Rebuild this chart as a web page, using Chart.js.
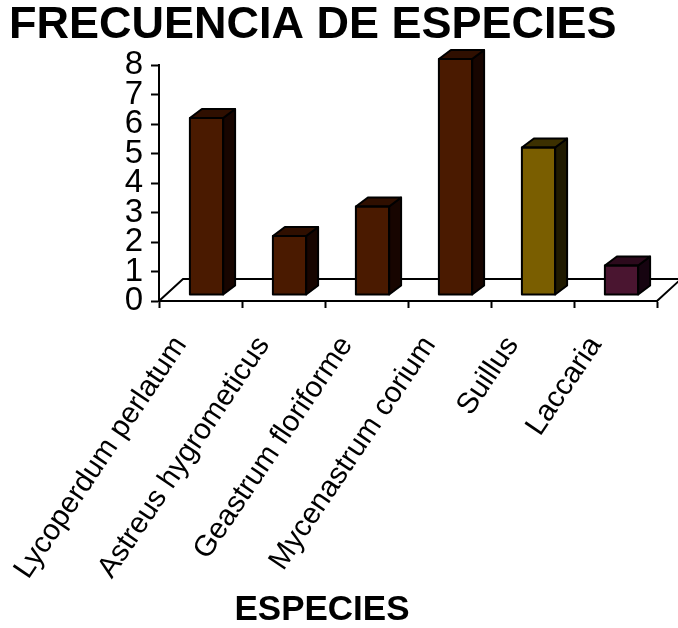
<!DOCTYPE html>
<html>
<head>
<meta charset="utf-8">
<script src="https://cdn.jsdelivr.net/npm/chart.js@4"></script>
<style>
  html, body { margin: 0; padding: 0; background: #ffffff; }
  canvas { display: block; }
</style>
</head>
<body>
<canvas id="chart" width="678" height="628"></canvas>
<script>
// Especies registradas y su frecuencia
const categorias = [
  'Lycoperdum perlatum',
  'Astreus hygrometicus',
  'Geastrum floriforme',
  'Mycenastrum corium',
  'Suillus',
  'Laccaria'
];
const frecuencias = [6, 2, 3, 8, 5, 1];
const marcasY = [0, 1, 2, 3, 4, 5, 6, 7, 8];

// Colores de cada barra: cara frontal, superior y lateral
const colorFrente = ['#4a1a00', '#4a1a00', '#4a1a00', '#4a1a00', '#7a5e00', '#4a1530'];
const colorArriba = ['#2f0f00', '#2f0f00', '#2f0f00', '#2f0f00', '#3c3000', '#2c0a1c'];
const colorLado   = ['#170500', '#170500', '#170500', '#170500', '#201a00', '#160410'];

const FUENTE = "'Liberation Sans', Arial, sans-serif";
const DESPL = { x: 6, y: -6 };        // desplazamiento de las barras hacia el fondo
const PROF_BARRA = { x: 12, y: -9 };  // profundidad de cada barra
const PROF_PISO = { x: 24, y: -22 };  // profundidad del piso

const piso3D = {
  id: 'piso3D',
  beforeDatasetsDraw(chart) {
    const { ctx, chartArea: a } = chart;
    ctx.save();
    ctx.strokeStyle = '#000';
    ctx.lineWidth = 2;
    ctx.lineJoin = 'miter';
    ctx.beginPath();
    ctx.moveTo(a.left, a.bottom);
    ctx.lineTo(a.left + PROF_PISO.x, a.bottom + PROF_PISO.y);
    ctx.lineTo(a.right + PROF_PISO.x, a.bottom + PROF_PISO.y);
    ctx.lineTo(a.right, a.bottom);
    ctx.stroke();
    ctx.restore();
    ctx.save();
    ctx.translate(DESPL.x, DESPL.y);
  },
  afterDatasetsDraw(chart) {
    const { ctx } = chart;
    const meta = chart.getDatasetMeta(0);
    ctx.strokeStyle = '#000';
    ctx.lineWidth = 2;
    ctx.lineJoin = 'round';
    meta.data.forEach((el, i) => {
      const p = el.getProps(['x', 'y', 'base', 'width'], true);
      const l = p.x - p.width / 2, r = p.x + p.width / 2;
      const top = Math.min(p.y, p.base), base = Math.max(p.y, p.base);
      const dx = PROF_BARRA.x, dy = PROF_BARRA.y;
      // cara lateral
      ctx.beginPath();
      ctx.moveTo(r, top);
      ctx.lineTo(r + dx, top + dy);
      ctx.lineTo(r + dx, base + dy);
      ctx.lineTo(r, base);
      ctx.closePath();
      ctx.fillStyle = colorLado[i];
      ctx.fill();
      ctx.stroke();
      // cara superior
      ctx.beginPath();
      ctx.moveTo(l, top);
      ctx.lineTo(l + dx, top + dy);
      ctx.lineTo(r + dx, top + dy);
      ctx.lineTo(r, top);
      ctx.closePath();
      ctx.fillStyle = colorArriba[i];
      ctx.fill();
      ctx.stroke();
      // contorno frontal
      ctx.strokeRect(l, top, r - l, base - top);
    });
    ctx.restore();
  },
  afterDraw(chart) {
    const { ctx } = chart;
    ctx.save();
    ctx.fillStyle = '#000';
    ctx.font = "bold 35px " + FUENTE;
    ctx.textAlign = 'center';
    ctx.textBaseline = 'middle';
    ctx.fillText('ESPECIES', 322, 610);
    ctx.restore();
  }
};

new Chart(document.getElementById('chart'), {
  type: 'bar',
  data: {
    labels: categorias,
    datasets: [{
      data: frecuencias,
      backgroundColor: colorFrente,
      borderColor: '#000',
      borderWidth: 0,
      barPercentage: 0.4,
      categoryPercentage: 1.0,
      clip: false
    }]
  },
  options: {
    responsive: false,
    devicePixelRatio: 1,
    animation: false,
    layout: { padding: { left: 9, right: 21, top: 0, bottom: 12 } },
    plugins: {
      legend: { display: false },
      tooltip: { enabled: false },
      title: {
        display: true,
        text: 'FRECUENCIA DE ESPECIES',
        align: 'start',
        color: '#000',
        font: { family: FUENTE, size: 45, weight: 'bold', lineHeight: 1.0 },
        padding: { top: 3, bottom: 17 }
      }
    },
    scales: {
      x: {
        grid: {
          display: true,
          offset: true,
          drawOnChartArea: false,
          drawTicks: true,
          tickLength: 7,
          tickWidth: 2,
          tickColor: '#000'
        },
        border: { display: true, color: '#000', width: 2 },
        ticks: {
          autoSkip: false,
          minRotation: 56,
          maxRotation: 56,
          padding: 22,
          labelOffset: -20,
          color: '#000',
          font: { family: FUENTE, size: 29.5 }
        },
        afterFit(s) { s.height = 315; s.paddingLeft = 0; s.paddingRight = 0; }
      },
      y: {
        min: 0,
        max: 8,
        afterBuildTicks(s) { s.ticks = marcasY.map(v => ({ value: v })); },
        grid: {
          display: true,
          drawOnChartArea: false,
          drawTicks: true,
          tickLength: 8,
          tickWidth: 2,
          tickColor: '#000'
        },
        border: { display: true, color: '#000', width: 2 },
        ticks: {
          autoSkip: false,
          padding: 8,
          color: '#000',
          font: { family: FUENTE, size: 33, lineHeight: 1 }
        },
        afterFit(s) { s.width = 150; s.paddingTop = 0; s.paddingBottom = 0; }
      }
    }
  },
  plugins: [piso3D]
});
</script>
</body>
</html>
